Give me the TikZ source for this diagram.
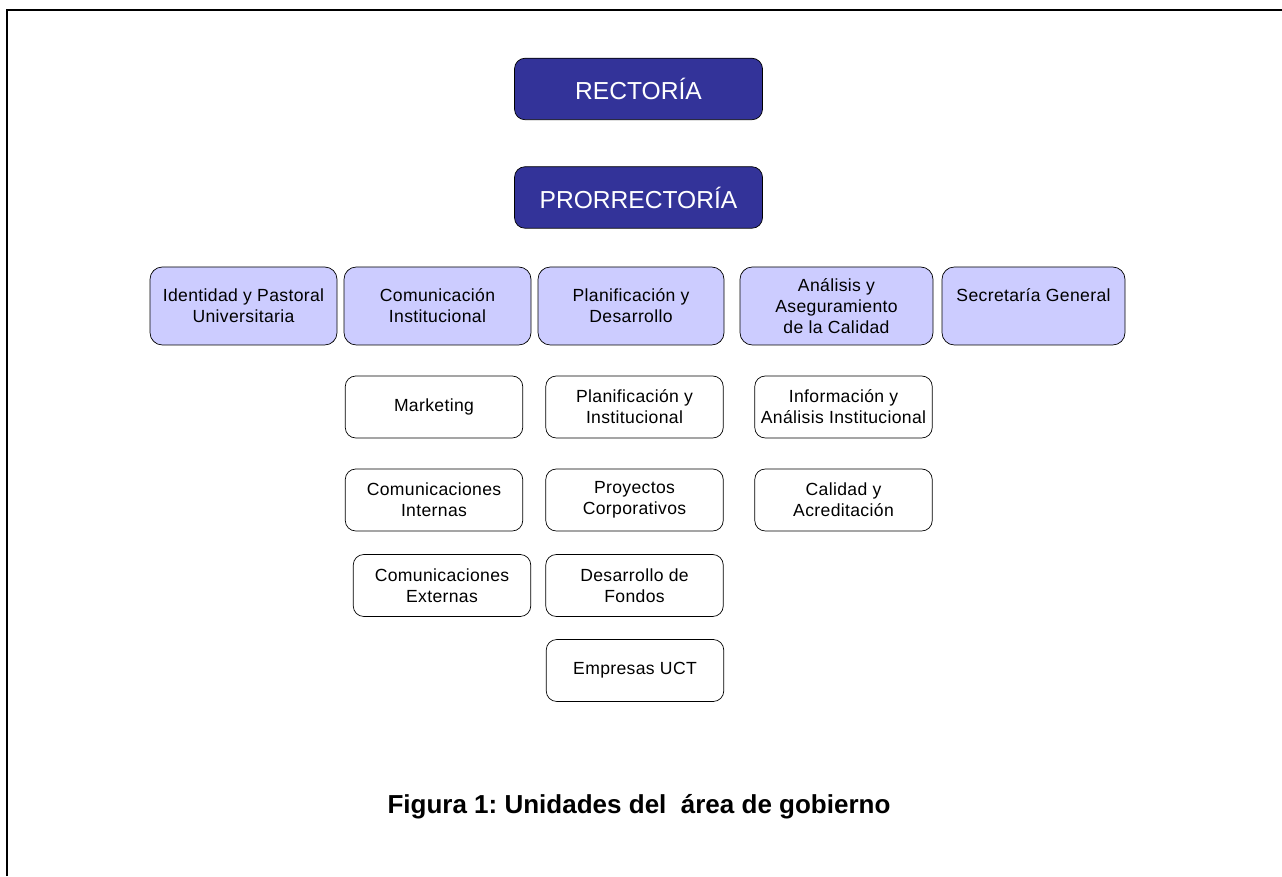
\documentclass[tikz,border=0pt]{standalone}
\usepackage{fontspec}
\setmainfont{Liberation Sans}
\newfontfamily\boxfont[LetterSpace=2]{Liberation Sans}
\frenchspacing
\definecolor{uctblue}  {RGB}{51,51,153}
\definecolor{uctlilac} {RGB}{204,204,255}
\usepackage{tikz}
\usetikzlibrary{positioning}
\tikzset{
  topbox/.style={rectangle,rounded corners=6pt,draw=black,fill=uctblue,
                 text=white,minimum width=4.96cm,minimum height=1.23cm,
                 font=\fontsize{14}{16}\selectfont,align=center},
  unitbox/.style={rectangle,rounded corners=7pt,draw=black,fill=uctlilac,
                  text=black,minimum height=1.56cm,minimum width=#1,
                  font=\boxfont\fontsize{10}{12}\selectfont,align=center,inner sep=1pt},
  unitbox/.default=3.74cm,
  subbox/.style={rectangle,rounded corners=6pt,draw=black,fill=white,
                 text=black,minimum height=1.24cm,minimum width=3.55cm,
                 font=\boxfont\fontsize{10}{12}\selectfont,align=center,inner sep=1pt},
}
\begin{document}
\begin{tikzpicture}
    \useasboundingbox (0,0) rectangle (25.64,17.52);
    \draw[black,line width=1.2pt] (0.14,0) -- (0.14,17.32) -- (25.64,17.32);
    % direccion superior
    \node[topbox] (rect) at (12.77,15.74) {RECTORÍA};
    \node[topbox] (prorr) at (12.77,13.57) {PRORRECTORÍA};
    % unidades
    \node[unitbox] (ident) at (4.87,11.40) {Identidad y Pastoral\\Universitaria};
    \node[unitbox] (comun) at (8.75,11.40) {Comunicación\\Institucional};
    \node[unitbox=3.72cm] (planif) at (12.62,11.40) {Planificación y\\Desarrollo};
    \node[unitbox=3.86cm] (anal) at (16.73,11.40) {Análisis y\\Aseguramiento\\de la Calidad};
    \node[unitbox=3.66cm,text depth=0.43cm] (secre) at (20.67,11.40) {Secretaría General};
    % subunidades
    \node[subbox] (mkt) at (8.68,9.38) {Marketing};
    \node[subbox] (cint) at (8.68,7.52) {Comunicaciones\\Internas};
    \node[subbox] (cext) at (8.84,5.81) {Comunicaciones\\Externas};
    \node[subbox] (pinst) at (12.69,9.38) {Planificación y\\Institucional};
    \node[subbox] (proy) at (12.69,7.52) {Proyectos\\Corporativos};
    \node[subbox] (fondos) at (12.69,5.81) {Desarrollo de\\Fondos};
    \node[subbox] (empr) at (12.70,4.11) {Empresas UCT};
    \node[subbox] (info) at (16.87,9.38) {Información y\\Análisis Institucional};
    \node[subbox] (calid) at (16.87,7.52) {Calidad y\\Acreditación};
    \node[font=\fontsize{14.8}{17}\selectfont\bfseries] (caption) at (12.78,1.38)
         {Figura 1: Unidades del~ área de gobierno};
\end{tikzpicture}
\end{document}
